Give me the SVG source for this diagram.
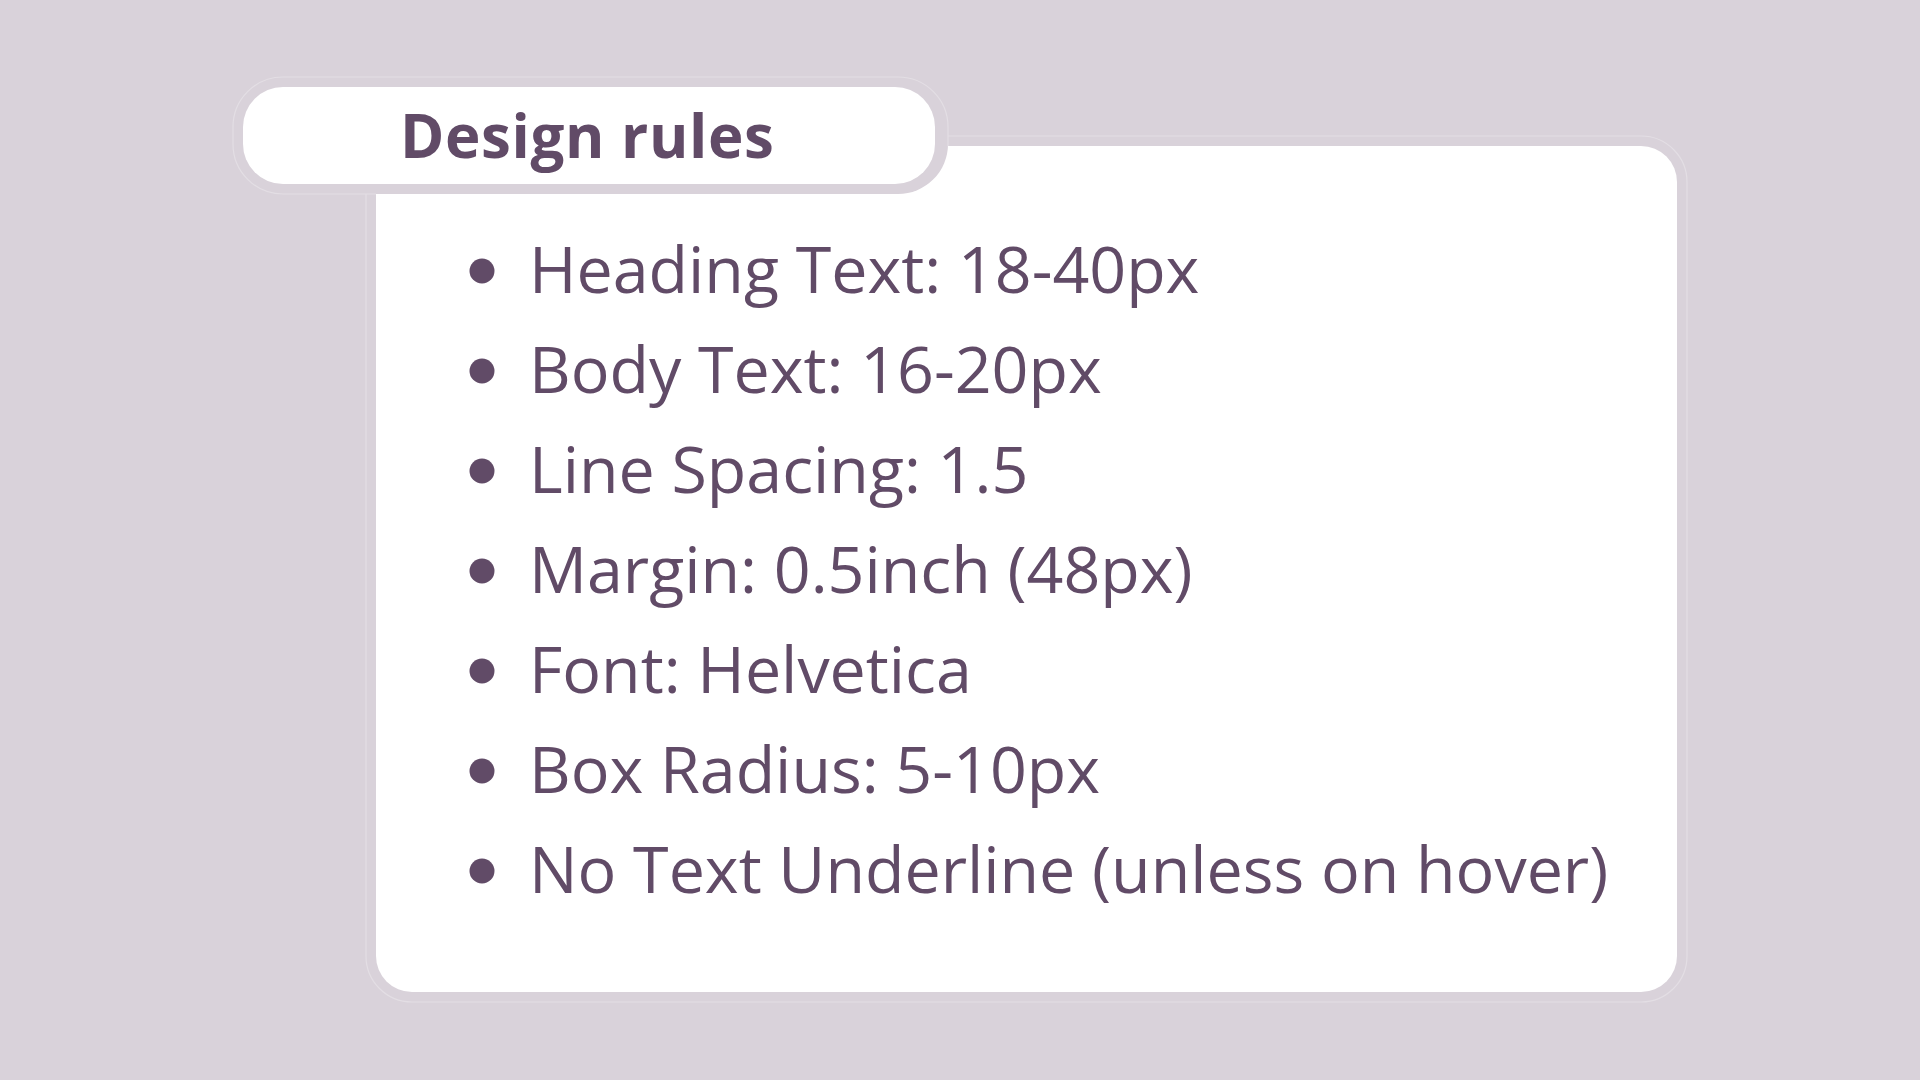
<svg xmlns="http://www.w3.org/2000/svg" width="1920" height="1080" viewBox="0 0 1920 1080">
<style>
.bg{fill:#D9D2DA}
.halo{fill:none;stroke:#E3DEE4;stroke-width:1.2}
.card{fill:#FFFFFF}
.band{fill:#D9D2DA}
.title{font-family:"Open Sans","Noto Sans",sans-serif;font-weight:700;font-size:60px;letter-spacing:0.6px;fill:#614B67}
.item{font-family:"Open Sans","Noto Sans",sans-serif;font-weight:400;font-size:64.5px;fill:#614B67}
.dot{fill:#614B67}
</style>
<rect class="bg" x="0" y="0" width="1920" height="1080"/>
<g id="card">
<rect class="halo" x="366" y="136" width="1321" height="866" rx="46"/>
<rect class="card" x="376" y="146" width="1301" height="846" rx="36"/>
</g>
<g id="title-tab">
<rect class="band" x="233" y="77" width="715" height="117" rx="50"/>
<path class="halo" d="M376,194 L283,194 A50,50 0 0 1 233,144 L233,127 A50,50 0 0 1 283,77 L898,77 A50,50 0 0 1 948,127 L948,146"/>
<rect class="card" x="243" y="87" width="692" height="97" rx="40"/>
<text class="title" x="400" y="158">Design rules</text>
</g>
<g id="rules">
<circle class="dot" cx="482" cy="271" r="12.5"/>
<text class="item" x="529" y="293">Heading Text: 18-40px</text>
<circle class="dot" cx="482" cy="371" r="12.5"/>
<text class="item" x="529" y="393">Body Text: 16-20px</text>
<circle class="dot" cx="482" cy="471" r="12.5"/>
<text class="item" x="529" y="493">Line Spacing: 1.5</text>
<circle class="dot" cx="482" cy="571" r="12.5"/>
<text class="item" x="529" y="593">Margin: 0.5inch (48px)</text>
<circle class="dot" cx="482" cy="671" r="12.5"/>
<text class="item" x="529" y="693">Font: Helvetica</text>
<circle class="dot" cx="482" cy="771" r="12.5"/>
<text class="item" x="529" y="793">Box Radius: 5-10px</text>
<circle class="dot" cx="482" cy="871" r="12.5"/>
<text class="item" x="529" y="893">No Text Underline (unless on hover)</text>
</g>
</svg>
